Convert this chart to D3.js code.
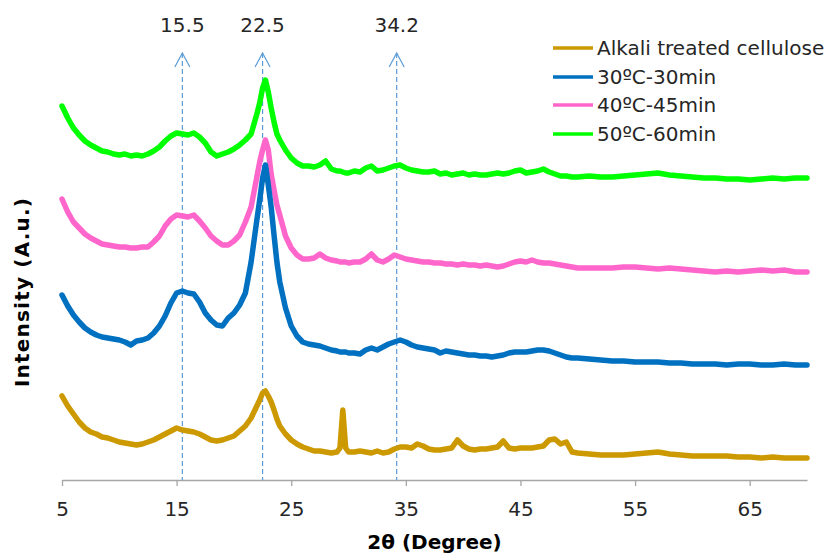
<!DOCTYPE html>
<html>
<head>
<meta charset="utf-8">
<script src="https://cdn.jsdelivr.net/npm/d3@7/dist/d3.min.js"></script>
<style>
  body { margin: 0; background: #ffffff; }
  svg { display: block; }
  text { font-family: "DejaVu Sans", Verdana, sans-serif; }
</style>
</head>
<body>
<svg id="chart" width="829" height="553"></svg>
<script>
// XRD patterns: 2θ (degree) against intensity (a.u., stacked traces)
const twoTheta = [
  5, 5.5, 6, 6.5, 7, 7.5, 8, 8.5, 9, 9.5, 10, 10.5, 11, 11.5, 12, 12.5, 13, 13.5, 14, 14.5,
  15, 15.5, 16, 16.5, 17, 17.5, 18, 18.5, 19, 19.5, 20, 20.5, 21, 21.5, 22,
  22.25, 22.5, 22.75, 23, 23.25, 23.5, 23.75,
  24, 24.5, 25, 25.5, 26, 26.5, 27, 27.5, 28, 28.5, 29,
  29.25, 29.5, 29.75,
  30, 30.5, 31, 31.5, 32, 32.5, 33, 33.5, 34, 34.5, 35, 35.5, 36, 36.5, 37, 37.5, 38, 38.5, 39, 39.5,
  40, 40.5, 41, 41.5, 42, 42.5, 43, 43.5, 44, 44.5, 45, 45.5, 46, 46.5, 47, 47.5, 48, 48.5, 49, 49.5, 50,
  51, 52, 53, 54, 55, 56, 57, 58, 59, 60, 61, 62, 63, 64, 65, 66, 67, 68, 69, 70
];

const alkaliTreated = [
  84, 74, 66, 58, 52, 48, 46, 43, 42, 40, 38, 37, 36, 35, 36, 38, 40, 43, 46, 49,
  52, 50, 49, 48, 46, 43, 40, 39, 40, 42, 44, 49, 54, 62, 74,
  80, 87, 89, 84, 78, 70, 61,
  54, 46, 40, 36, 33, 31, 29, 29, 28, 27, 28,
  32, 70, 32,
  28, 28, 29, 28, 27, 29, 27, 28, 31, 33, 33, 32, 36, 34, 31, 30, 30, 31, 32, 40,
  34, 31, 30, 31, 31, 32, 33, 39, 32, 31, 32, 32, 32, 33, 34, 40, 41, 36, 38, 28, 27,
  26, 25, 25, 25, 26, 27, 28, 26, 25, 24, 24, 24, 24, 23, 23, 22, 23, 22, 22, 22
];

const run30C30min = [
  185, 174, 165, 158, 152, 148, 145, 143, 142, 141, 140, 138, 135, 139, 140, 142, 147, 154, 164, 177,
  187, 189, 187, 186, 178, 167, 160, 155, 154, 162, 167, 175, 187, 218, 260,
  280, 302, 315, 295, 273, 245, 218,
  198, 172, 154, 144, 138, 136, 135, 134, 132, 130, 129,
  128, 128, 128,
  127, 127, 126, 130, 132, 130, 133, 136, 138, 140, 138, 135, 133, 132, 131, 130, 127, 129, 128, 127,
  126, 125, 125, 124, 124, 123, 124, 125, 127, 128, 128, 128, 129, 130, 130, 129, 127, 125, 123, 122, 122,
  121, 120, 119, 119, 118, 118, 118, 117, 117, 116, 116, 116, 115, 116, 116, 115, 115, 116, 115, 115
];

const run40C45min = [
  281, 268, 258, 252, 246, 242, 239, 236, 235, 234, 233, 233, 232, 232, 233, 233, 238, 244, 254, 261,
  265, 264, 263, 265, 259, 252, 244, 239, 235, 235, 239, 245, 258, 273, 303,
  318, 330, 340, 330, 306, 290, 275,
  265, 244, 232, 225, 221, 221, 222, 226, 222, 220, 219,
  218, 218, 218,
  217, 218, 218, 221, 226, 220, 218, 221, 225, 223, 221, 220, 219, 218, 218, 217, 217, 216, 216, 215,
  216, 215, 215, 214, 215, 214, 213, 214, 216, 218, 219, 218, 220, 218, 217, 217, 216, 215, 214, 213, 212,
  212, 212, 212, 213, 213, 212, 211, 212, 211, 210, 209, 208, 209, 208, 209, 210, 209, 210, 208, 208
];

const run50C60min = [
  374, 362, 352, 345, 339, 335, 332, 329, 328, 326, 325, 326, 324, 325, 324, 326, 329, 333, 339, 344,
  347, 346, 345, 347, 343, 337, 328, 324, 326, 328, 331, 335, 340, 346, 366,
  377, 392, 400, 388, 372, 358, 346,
  340, 330, 322, 317, 314, 314, 313, 315, 319, 311, 309,
  309, 308, 307,
  307, 309, 308, 312, 314, 309, 310, 312, 314, 315, 312, 310, 309, 308, 308, 309, 306, 307, 305, 306,
  307, 305, 306, 305, 305, 306, 307, 306, 307, 309, 310, 307, 308, 309, 311, 308, 306, 304, 304, 303, 303,
  304, 303, 303, 304, 305, 306, 307, 305, 304, 303, 302, 302, 301, 301, 300, 301, 302, 301, 302, 302
];

const seriesNames = ["Alkali treated cellulose", "30ºC-30min", "40ºC-45min", "50ºC-60min"];
const seriesValues = [alkaliTreated, run30C30min, run40C45min, run50C60min];
const seriesColors = ["#cc9900", "#0070c0", "#ff66cc", "#00ff00"];
const drawOrder = [0, 2, 1, 3];

const xTicks = [5, 15, 25, 35, 45, 55, 65];
const peakMarks = [15.5, 22.5, 34.2];

const svg = d3.select("#chart");
const textColor = "#262626";

const x = d3.scaleLinear().domain([5, 70]).range([62, 807]);
const y = d3.scaleLinear().domain([0, 440]).range([480, 40]);

// x axis
const xAxis = svg.append("g")
  .attr("transform", `translate(0,${y(0)})`)
  .call(d3.axisBottom(x).tickValues(xTicks).tickSize(6).tickSizeOuter(0).tickFormat(d3.format("d")));
xAxis.select(".domain").attr("stroke", "#a6a6a6").attr("stroke-width", 1.3);
xAxis.selectAll(".tick line").attr("stroke", "#a6a6a6").attr("stroke-width", 1.3);
xAxis.selectAll(".tick text")
  .attr("y", 22)
  .attr("fill", textColor)
  .style("font-size", "20px")
  .style("font-family", "'DejaVu Sans', Verdana, sans-serif");

// dashed peak markers with open arrow heads
const marks = svg.append("g").attr("class", "peak-marks");
peakMarks.forEach(v => {
  const px = x(v);
  marks.append("line")
    .attr("x1", px).attr("x2", px)
    .attr("y1", 53).attr("y2", y(0))
    .attr("stroke", "#5b9bd5").attr("stroke-width", 1.2)
    .attr("stroke-dasharray", "5,3");
  marks.append("path")
    .attr("d", `M${px - 7.5},${67} L${px},${53} L${px + 7.5},${67}`)
    .attr("fill", "none").attr("stroke", "#5b9bd5").attr("stroke-width", 1.2);
  marks.append("text")
    .attr("x", px).attr("y", 32)
    .attr("text-anchor", "middle")
    .attr("fill", textColor)
    .style("font-size", "20px")
    .text(d3.format(".1f")(v));
});

// diffraction traces
const line = d3.line()
  .x((d, i) => x(twoTheta[i]))
  .y(d => y(d));

drawOrder.forEach(k => {
  svg.append("path")
    .datum(seriesValues[k])
    .attr("fill", "none")
    .attr("stroke", seriesColors[k])
    .attr("stroke-width", 5.5)
    .attr("stroke-linejoin", "round")
    .attr("stroke-linecap", "round")
    .attr("d", line);
});

// legend
const legend = svg.append("g").attr("class", "legend");
const legendRows = [48, 77, 105, 134];
seriesNames.forEach((name, i) => {
  legend.append("line")
    .attr("x1", 553).attr("x2", 593)
    .attr("y1", legendRows[i]).attr("y2", legendRows[i])
    .attr("stroke", seriesColors[i]).attr("stroke-width", 3.5);
  legend.append("text")
    .attr("x", 597).attr("y", legendRows[i])
    .attr("dy", "0.36em")
    .attr("fill", textColor)
    .style("font-size", "20px")
    .text(name);
});

// axis titles
svg.append("text")
  .attr("x", (x(5) + x(70)) / 2).attr("y", 549)
  .attr("text-anchor", "middle")
  .attr("fill", "#000")
  .style("font-size", "20px").style("font-weight", "bold")
  .text("2θ (Degree)");

svg.append("text")
  .attr("transform", "translate(29,292) rotate(-90)")
  .attr("text-anchor", "middle")
  .attr("fill", "#000")
  .style("font-size", "20px").style("font-weight", "bold")
  .style("letter-spacing", "1.2px")
  .text("Intensity (A.u.)");
</script>
</body>
</html>
